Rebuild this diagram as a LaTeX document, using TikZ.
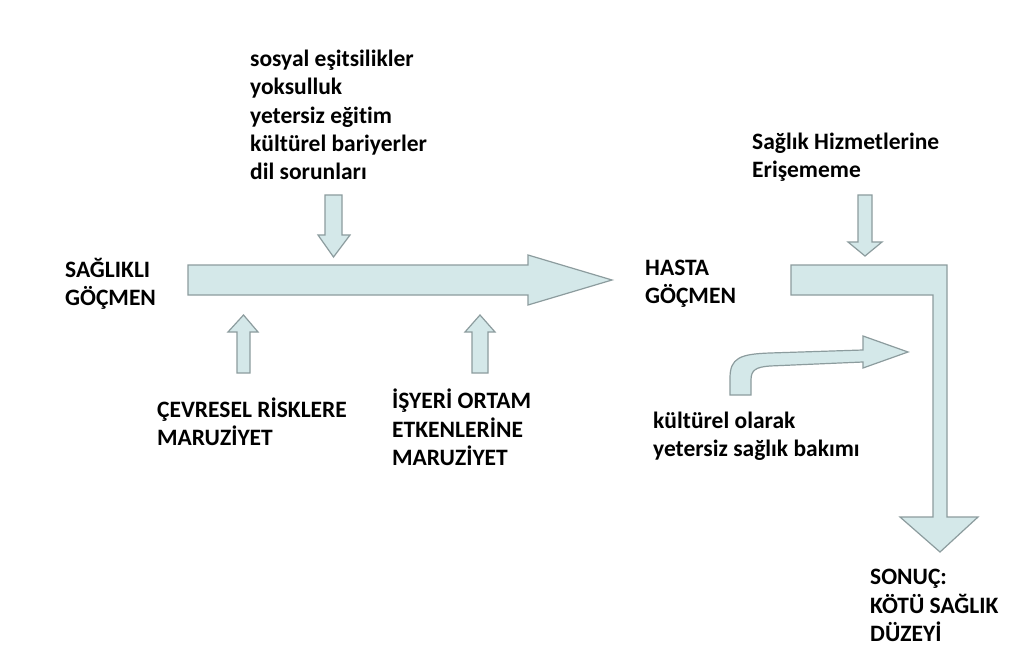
\documentclass[tikz,border=0pt]{standalone}
\usepackage{fontspec}
\setmainfont{Carlito}[RawFeature=-liga]
\definecolor{arrfill}{RGB}{212,232,233}
\definecolor{arrline}{RGB}{140,156,158}
\begin{document}
\begin{tikzpicture}[x=1pt,y=-1pt,
  blockarrow/.style={fill=arrfill,draw=arrline,line width=1.2pt,line join=miter},
  lbl/.style={anchor=west,inner sep=0pt,align=left,font=\fontsize{23.5}{28.3}\selectfont\bfseries}]
\useasboundingbox[fill=white] (0,0) rectangle (1012,655);
% main arrow
\draw[blockarrow] (188,265) -- (528,265) -- (528,255) -- (612,280) -- (528,305) -- (528,295) -- (188,295) -- cycle;
% top down arrow
\draw[blockarrow] (325,195) -- (342,195) -- (342,235) -- (350,235) -- (333.5,257) -- (318,235) -- (325,235) -- cycle;
% up arrows
\draw[blockarrow] (237,373) -- (237,332) -- (228,332) -- (243.5,315) -- (258,332) -- (250,332) -- (250,373) -- cycle;
\draw[blockarrow] (472,373) -- (472,332) -- (465,332) -- (480,315) -- (495,332) -- (488,332) -- (488,373) -- cycle;
% right top down arrow
\draw[blockarrow] (858,195) -- (872,195) -- (872,242) -- (882,242) -- (865,256) -- (848,242) -- (858,242) -- cycle;
% elbow arrow
\draw[blockarrow] (791,265) -- (947,265) -- (947,517) -- (978,517) -- (940,552) -- (900,517) -- (933,517) -- (933,295) -- (791,295) -- cycle;
% curved arrow
\draw[blockarrow] (730,395) -- (730,378) .. controls (730,358) and (740,354) .. (770,353) -- (863,350) -- (863,336) -- (908,352) -- (863,368) -- (863,362) -- (770,366) .. controls (756,367) and (751,370) .. (751,380) -- (751,395) -- cycle;
% labels
\node[lbl] (factors) at (250,115) {sosyal eşitsilikler\\yoksulluk\\yetersiz eğitim\\kültürel bariyerler\\dil sorunları};
\node[lbl] (healthy) at (65,284) {SAĞLIKLI\\GÖÇMEN};
\node[lbl] (sick) at (645,284) {HASTA\\GÖÇMEN};
\node[lbl] (access) at (752,157.5) {Sağlık Hizmetlerine\\Erişememe};
\node[lbl] (env) at (157,422) {ÇEVRESEL RİSKLERE\\MARUZİYET};
\node[lbl] (work) at (392,427.5) {İŞYERİ ORTAM\\ETKENLERİNE\\MARUZİYET};
\node[lbl] (care) at (653,436.5) {kültürel olarak\\yetersiz sağlık bakımı};
\node[lbl] (result) at (870,605.5) {SONUÇ:\\KÖTÜ SAĞLIK\\DÜZEYİ};
\end{tikzpicture}
\end{document}
